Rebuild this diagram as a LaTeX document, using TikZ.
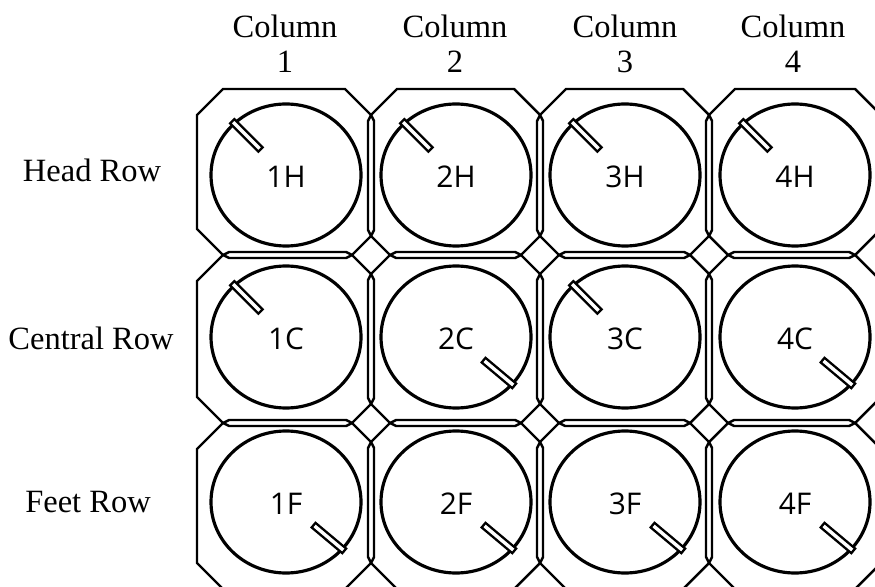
\documentclass[tikz,border=0pt]{standalone}
\usepackage{fontspec}
\setmainfont{Liberation Serif}
\newfontfamily\wellfont{Open Sans}

\tikzset{
  wellframe/.style={line width=1.4pt, line join=round},
  wellring/.style={line width=1.8pt},
  welltab/.style={line width=1.3pt, fill=white},
  welllabel/.style={font=\wellfont\fontsize{17}{20}\selectfont},
  headlabel/.style={font=\fontsize{18.5}{19.5}\selectfont, align=center},
}

\begin{document}
\begin{tikzpicture}[x=0.02cm, y=-0.02cm]
  \useasboundingbox (0,0) rectangle (875,587);
  % column and row headers
  \foreach \cx/\c in {285/1, 455/2, 625/3, 793/4}
    \node[headlabel, anchor=north, inner sep=0pt] (col\c) at (\cx,15) {Column\\\c};
  \node[headlabel] (rowH) at (92,170) {Head Row};
  \node[headlabel] (rowC) at (91,338) {Central Row};
  \node[headlabel] (rowF) at (88,502) {Feet Row};
  % draw chamfered well frames and rings
  \foreach \L/\R/\gl/\gr/\cx/\c in {197/368/0/3/286/1, 374/537/3/3/456/2, 543/706/3/3/625/3, 712/881/3/0/795/4}
  \foreach \T/\B/\gt/\gb/\cy/\r in {89/252/0/3/175/H, 258/420/3/3/337/C, 426/589/3/0/502/F}
  {
    \pgfmathsetmacro\dTL{(\gl==0 || \gt==0) ? 26 : 19}
    \pgfmathsetmacro\dTR{(\gr==0 || \gt==0) ? 26 : 19}
    \pgfmathsetmacro\dBR{(\gr==0 || \gb==0) ? 26 : 19}
    \pgfmathsetmacro\dBL{(\gl==0 || \gb==0) ? 26 : 19}
    \draw[wellframe] ({\L-\gl+\dTL},{\T-\gt}) -- ({\L-\gl+\dTL+2*\gt},\T)
      -- ({\R+\gr-\dTR-2*\gt},\T) -- ({\R+\gr-\dTR},{\T-\gt})
      -- ({\R+\gr},{\T-\gt+\dTR}) -- (\R,{\T-\gt+\dTR+2*\gr})
      -- (\R,{\B+\gb-\dBR-2*\gr}) -- ({\R+\gr},{\B+\gb-\dBR})
      -- ({\R+\gr-\dBR},{\B+\gb}) -- ({\R+\gr-\dBR-2*\gb},\B)
      -- ({\L-\gl+\dBL+2*\gb},\B) -- ({\L-\gl+\dBL},{\B+\gb})
      -- ({\L-\gl},{\B+\gb-\dBL}) -- (\L,{\B+\gb-\dBL-2*\gl})
      -- (\L,{\T-\gt+\dTL+2*\gl}) -- ({\L-\gl},{\T-\gt+\dTL}) -- cycle;
    \coordinate (ctr\c\r) at (\cx,\cy);
    \draw[wellring] (ctr\c\r) ellipse [x radius=75, y radius=71];
    \node[welllabel] (w\c\r) at ([yshift=-0.04cm]ctr\c\r) {\c\r};
  }
  % draw the small tabs on each ring
  \foreach \w/\ang in {1H/135, 2H/135, 3H/135, 4H/135, 1C/135, 2C/-40, 3C/135, 4C/-40, 1F/-40, 2F/-40, 3F/-40, 4F/-40}
    \draw[welltab, shift={(ctr\w)}, rotate=\ang] (36,-3) rectangle (76,3);
\end{tikzpicture}
\end{document}
